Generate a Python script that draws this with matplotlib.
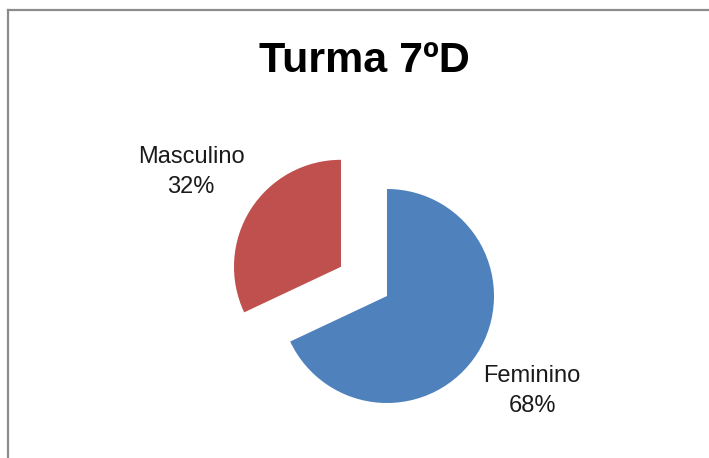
import matplotlib.pyplot as plt
from matplotlib.lines import Line2D

# dados
categorias = ["Feminino", "Masculino"]
percentuais = [68, 32]
cores = ["#4F81BD", "#C0504D"]
destaque = [0, 54.5]  # fatia Masculino destacada (em px)
titulo = "Turma 7ºD"

plt.rcParams['font.family'] = ['Liberation Sans', 'DejaVu Sans']

fig = plt.figure(figsize=(7.09, 4.58), dpi=100)
ax = fig.add_axes([0, 0, 1, 1])

# eixo em pixels (y para cima)
ax.pie(percentuais, colors=cores, explode=destaque, startangle=90,
       counterclock=False, radius=107, center=(387, 162),
       wedgeprops=dict(linewidth=0))
ax.set_xlim(0, 709)
ax.set_ylim(0, 458)
ax.set_aspect('auto')
ax.axis('off')

# rótulos de dados
pos_rotulos = [(532, 67), (191, 286)]
for nome, pct, (x, y) in zip(categorias, percentuais, pos_rotulos):
    ax.text(x, y, f"{nome}\n{pct}%", ha='center', va='center',
            fontsize=17, color='#1a1a1a', linespacing=1.45)

ax.text(364, 397, titulo, ha='center', va='center', fontsize=31,
        fontweight='bold', color='black')

# borda da área do gráfico
fig.add_artist(Line2D([8 / 709, 8 / 709], [0, 1 - 10 / 458],
                      transform=fig.transFigure, color='#8c8c8c', lw=1.6))
fig.add_artist(Line2D([8 / 709, 1], [1 - 10 / 458, 1 - 10 / 458],
                      transform=fig.transFigure, color='#8c8c8c', lw=1.6))

fig.savefig("out.png", dpi=100, facecolor='white')
